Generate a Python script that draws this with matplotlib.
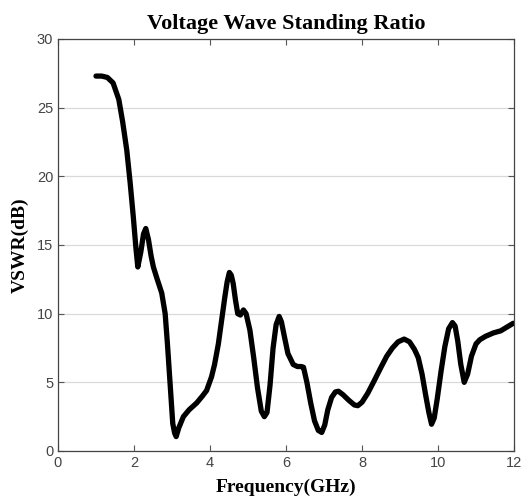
import matplotlib.pyplot as plt

# values
freq = [1.0, 1.15, 1.3, 1.45, 1.6, 1.7, 1.81, 1.9, 1.98, 2.05, 2.10, 2.18, 2.25, 2.31, 2.38, 2.45,
        2.51, 2.6, 2.73, 2.82, 2.88, 2.95, 3.02, 3.07, 3.11, 3.18, 3.3, 3.45, 3.65, 3.8, 3.91, 4.04,
        4.12, 4.22, 4.3, 4.39, 4.45, 4.51, 4.56, 4.61, 4.67, 4.73, 4.8, 4.88, 4.95, 5.05, 5.15, 5.25,
        5.35, 5.43, 5.5, 5.58, 5.66, 5.74, 5.82, 5.88, 5.96, 6.05, 6.19, 6.3, 6.4, 6.46, 6.55, 6.65,
        6.75, 6.85, 6.94, 7.02, 7.1, 7.2, 7.3, 7.38, 7.5, 7.65, 7.8, 7.89, 8.0, 8.15, 8.3, 8.5, 8.65,
        8.8, 8.95, 9.11, 9.25, 9.38, 9.48, 9.58, 9.68, 9.76, 9.83, 9.9, 9.98, 10.08, 10.18, 10.28,
        10.38, 10.45, 10.52, 10.6, 10.69, 10.78, 10.88, 11.0, 11.1, 11.25, 11.46, 11.65, 11.8, 11.98]
vswr = [27.3, 27.3, 27.2, 26.8, 25.6, 24.0, 21.9, 19.5, 17.1, 14.8, 13.4, 14.5, 15.8, 16.2, 15.4, 14.2,
        13.4, 12.6, 11.5, 10.0, 7.8, 4.9, 2.0, 1.3, 1.05, 1.7, 2.5, 3.0, 3.5, 4.0, 4.4, 5.4,
        6.3, 7.8, 9.4, 11.2, 12.3, 13.0, 12.8, 12.2, 11.0, 10.0, 9.9, 10.27, 10.0, 8.8, 6.8, 4.6,
        2.9, 2.5, 2.8, 4.8, 7.5, 9.2, 9.8, 9.4, 8.3, 7.1, 6.3, 6.15, 6.15, 6.1, 5.0, 3.5,
        2.2, 1.5, 1.35, 1.9, 3.0, 3.9, 4.3, 4.35, 4.1, 3.7, 3.35, 3.3, 3.55, 4.2, 5.0, 6.1, 6.9,
        7.5, 7.95, 8.15, 7.95, 7.4, 6.8, 5.6, 4.0, 2.8, 1.95, 2.4, 3.8, 5.8, 7.6, 8.9,
        9.35, 9.1, 8.0, 6.3, 5.0, 5.6, 6.9, 7.8, 8.1, 8.35, 8.6, 8.75, 9.0, 9.3]

xticks = [0, 2, 4, 6, 8, 10, 12]
yticks = [0, 5, 10, 15, 20, 25, 30]

fig = plt.figure(figsize=(5.28, 4.97), dpi=100)
ax = fig.add_axes([58 / 528, 1 - 451 / 497, 456 / 528, 412 / 497])

ax.plot(freq, vswr, color='black', linewidth=3.8, solid_capstyle='round', solid_joinstyle='round')

ax.set_xlim(0, 12)
ax.set_ylim(0, 30)
ax.set_xticks(xticks)
ax.set_yticks(yticks)
ax.yaxis.grid(True, color='#d9d9d9', linewidth=0.9)
ax.set_axisbelow(True)

ax.tick_params(direction='in', top=True, right=True, length=4, width=0.8,
               colors='#555555', labelcolor='#444444', labelsize=10.5)
for s in ax.spines.values():
    s.set_color('#444444')
    s.set_linewidth(0.9)
for lab in ax.get_xticklabels() + ax.get_yticklabels():
    lab.set_family('Liberation Sans')

ax.set_title('Voltage Wave Standing Ratio', family='Liberation Serif', fontweight='bold',
             fontsize=16, pad=7)
ax.set_xlabel('Frequency(GHz)', family='Liberation Serif', fontweight='bold',
              fontsize=14, labelpad=6)
ax.set_ylabel('VSWR(dB)', family='Liberation Serif', fontweight='bold',
              fontsize=14, labelpad=6)

fig.savefig('out.png', dpi=100)
